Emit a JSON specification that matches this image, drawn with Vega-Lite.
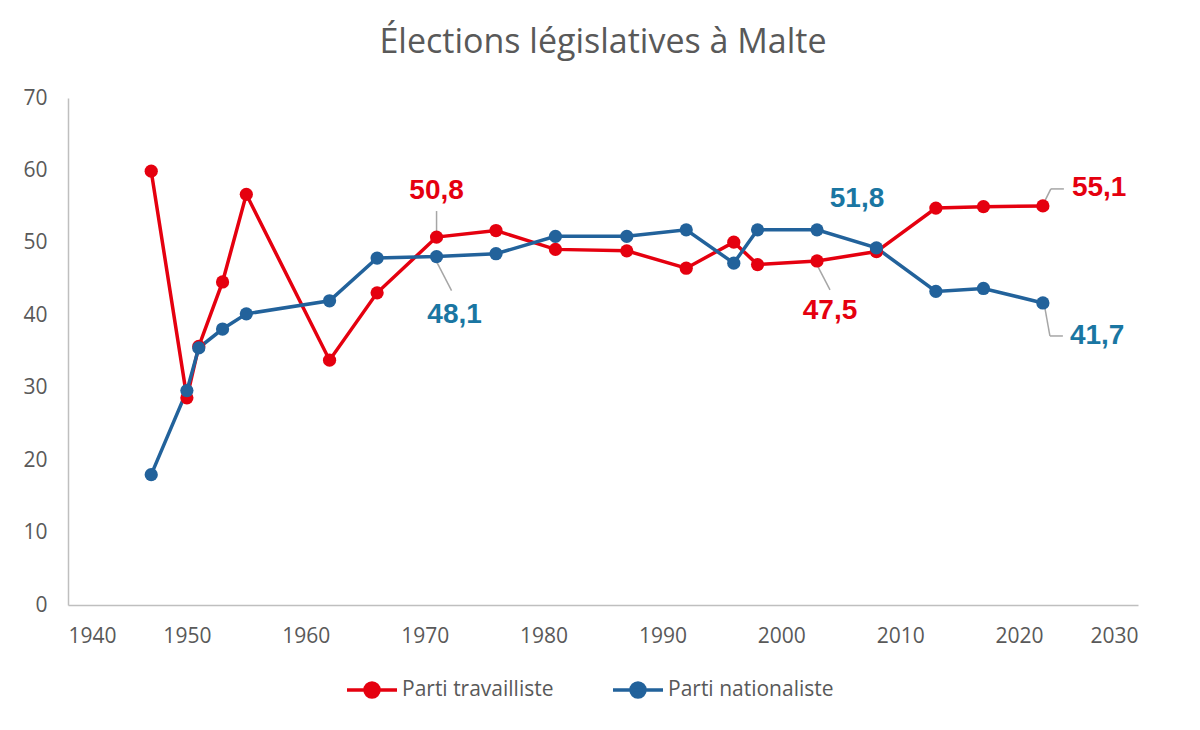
{
  "$schema": "https://vega.github.io/schema/vega-lite/v6.json",
  "width": 1070,
  "height": 507,
  "autosize": {"type": "none"},
  "padding": {"left": 68, "top": 98, "right": 62, "bottom": 125},
  "background": "white",
  "title": {
    "text": "Élections législatives à Malte",
    "font": "Open Sans",
    "fontSize": 34,
    "fontWeight": "normal",
    "color": "#595959",
    "offset": 27
  },
  "data": {
    "values": [
      {"year": 1947, "party": "Parti travailliste", "pct": 59.9},
      {"year": 1950, "party": "Parti travailliste", "pct": 28.6},
      {"year": 1951, "party": "Parti travailliste", "pct": 35.7},
      {"year": 1953, "party": "Parti travailliste", "pct": 44.6},
      {"year": 1955, "party": "Parti travailliste", "pct": 56.7},
      {"year": 1962, "party": "Parti travailliste", "pct": 33.8},
      {"year": 1966, "party": "Parti travailliste", "pct": 43.1},
      {"year": 1971, "party": "Parti travailliste", "pct": 50.8},
      {"year": 1976, "party": "Parti travailliste", "pct": 51.7},
      {"year": 1981, "party": "Parti travailliste", "pct": 49.1},
      {"year": 1987, "party": "Parti travailliste", "pct": 48.9},
      {"year": 1992, "party": "Parti travailliste", "pct": 46.5},
      {"year": 1996, "party": "Parti travailliste", "pct": 50.1},
      {"year": 1998, "party": "Parti travailliste", "pct": 47.0},
      {"year": 2003, "party": "Parti travailliste", "pct": 47.5},
      {"year": 2008, "party": "Parti travailliste", "pct": 48.8},
      {"year": 2013, "party": "Parti travailliste", "pct": 54.8},
      {"year": 2017, "party": "Parti travailliste", "pct": 55.0},
      {"year": 2022, "party": "Parti travailliste", "pct": 55.1},
      {"year": 1947, "party": "Parti nationaliste", "pct": 18.0},
      {"year": 1950, "party": "Parti nationaliste", "pct": 29.6},
      {"year": 1951, "party": "Parti nationaliste", "pct": 35.5},
      {"year": 1953, "party": "Parti nationaliste", "pct": 38.1},
      {"year": 1955, "party": "Parti nationaliste", "pct": 40.2},
      {"year": 1962, "party": "Parti nationaliste", "pct": 42.0},
      {"year": 1966, "party": "Parti nationaliste", "pct": 47.9},
      {"year": 1971, "party": "Parti nationaliste", "pct": 48.1},
      {"year": 1976, "party": "Parti nationaliste", "pct": 48.5},
      {"year": 1981, "party": "Parti nationaliste", "pct": 50.9},
      {"year": 1987, "party": "Parti nationaliste", "pct": 50.9},
      {"year": 1992, "party": "Parti nationaliste", "pct": 51.8},
      {"year": 1996, "party": "Parti nationaliste", "pct": 47.2},
      {"year": 1998, "party": "Parti nationaliste", "pct": 51.8},
      {"year": 2003, "party": "Parti nationaliste", "pct": 51.8},
      {"year": 2008, "party": "Parti nationaliste", "pct": 49.3},
      {"year": 2013, "party": "Parti nationaliste", "pct": 43.3},
      {"year": 2017, "party": "Parti nationaliste", "pct": 43.7},
      {"year": 2022, "party": "Parti nationaliste", "pct": 41.7}
    ]
  },
  "encoding": {
    "x": {
      "field": "year",
      "type": "quantitative",
      "scale": {"domain": [1940, 2030], "nice": false, "zero": false},
      "axis": {"values": [1940, 1950, 1960, 1970, 1980, 1990, 2000, 2010, 2020, 2030], "format": "d", "title": null}
    },
    "y": {
      "field": "pct",
      "type": "quantitative",
      "scale": {"domain": [0, 70], "nice": false},
      "axis": {"values": [0, 10, 20, 30, 40, 50, 60, 70], "format": "d", "title": null}
    }
  },
  "layer": [
    {
      "mark": {"type": "line", "strokeWidth": 3.5},
      "encoding": {
        "color": {
          "field": "party",
          "type": "nominal",
          "scale": {"domain": ["Parti travailliste", "Parti nationaliste"], "range": ["#E5000F", "#22629B"]},
          "legend": {
            "title": null,
            "orient": "none",
            "legendX": 277,
            "legendY": 565,
            "direction": "horizontal",
            "symbolType": "M-1,0H1M0.28,0A0.28,0.28,0,1,1,-0.28,0A0.28,0.28,0,1,1,0.28,0Z",
            "symbolSize": 2500,
            "symbolStrokeWidth": 3.5,
            "labelFont": "Open Sans",
            "labelFontSize": 21,
            "labelColor": "#595959",
            "labelLimit": 400,
            "labelOffset": 3,
            "columnPadding": 52,
            "encode": {
              "symbols": {
                "update": {
                  "fill": {"scale": "color", "field": "value"},
                  "stroke": {"scale": "color", "field": "value"},
                  "opacity": {"value": 1}
                }
              }
            }
          }
        }
      }
    },
    {
      "transform": [{"filter": "(datum.year == 1971 || datum.year == 2003 || datum.year == 2022)"}],
      "layer": [
        {
          "transform": [{"filter": "datum.year == 1971 && datum.party == 'Parti travailliste'"}],
          "mark": {"type": "rule", "color": "#A6A6A6", "strokeWidth": 1.5, "yOffset": -5, "y2Offset": -26},
          "encoding": {"x2": {"field": "year"}, "y2": {"field": "pct"}}
        },
        {
          "transform": [{"filter": "datum.year == 1971 && datum.party == 'Parti nationaliste'"}],
          "mark": {"type": "rule", "color": "#A6A6A6", "strokeWidth": 1.5, "yOffset": 5, "x2Offset": 15, "y2Offset": 34},
          "encoding": {"x2": {"field": "year"}, "y2": {"field": "pct"}}
        },
        {
          "transform": [{"filter": "datum.year == 2003 && datum.party == 'Parti travailliste'"}],
          "mark": {"type": "rule", "color": "#A6A6A6", "strokeWidth": 1.5, "yOffset": 4, "x2Offset": 13, "y2Offset": 29},
          "encoding": {"x2": {"field": "year"}, "y2": {"field": "pct"}}
        },
        {
          "transform": [{"filter": "datum.year == 2022 && datum.party == 'Parti travailliste'"}],
          "mark": {"type": "rule", "color": "#A6A6A6", "strokeWidth": 1.5, "xOffset": 2, "yOffset": -5, "x2Offset": 8, "y2Offset": -17},
          "encoding": {"x2": {"field": "year"}, "y2": {"field": "pct"}}
        },
        {
          "transform": [{"filter": "datum.year == 2022 && datum.party == 'Parti travailliste'"}],
          "mark": {"type": "rule", "color": "#A6A6A6", "strokeWidth": 1.5, "xOffset": 8, "yOffset": -17, "x2Offset": 21, "y2Offset": -17},
          "encoding": {"x2": {"field": "year"}, "y2": {"field": "pct"}}
        },
        {
          "transform": [{"filter": "datum.year == 2022 && datum.party == 'Parti nationaliste'"}],
          "mark": {"type": "rule", "color": "#A6A6A6", "strokeWidth": 1.5, "xOffset": 2, "yOffset": 5, "x2Offset": 7, "y2Offset": 33},
          "encoding": {"x2": {"field": "year"}, "y2": {"field": "pct"}}
        },
        {
          "transform": [{"filter": "datum.year == 2022 && datum.party == 'Parti nationaliste'"}],
          "mark": {"type": "rule", "color": "#A6A6A6", "strokeWidth": 1.5, "xOffset": 7, "yOffset": 33, "x2Offset": 20, "y2Offset": 33},
          "encoding": {"x2": {"field": "year"}, "y2": {"field": "pct"}}
        }
      ]
    },
    {
      "mark": {"type": "point", "filled": true, "opacity": 1, "size": 175},
      "encoding": {
        "color": {"field": "party", "type": "nominal", "legend": null}
      }
    },
    {
      "transform": [{"filter": "(datum.year == 1971 || datum.year == 2003 || datum.year == 2022)"}],
      "encoding": {
        "text": {"field": "pct", "type": "quantitative", "format": ".1f"}
      },
      "layer": [
        {
          "transform": [{"filter": "datum.year == 1971 && datum.party == 'Parti travailliste'"}],
          "mark": {"type": "text", "font": "Liberation Sans", "fontWeight": "bold", "fontSize": 28, "color": "#E5000F", "align": "center", "baseline": "middle", "dy": -46}
        },
        {
          "transform": [{"filter": "datum.year == 1971 && datum.party == 'Parti nationaliste'"}],
          "mark": {"type": "text", "font": "Liberation Sans", "fontWeight": "bold", "fontSize": 28, "color": "#1A76A2", "align": "center", "baseline": "middle", "dx": 18, "dy": 58}
        },
        {
          "transform": [{"filter": "datum.year == 2003 && datum.party == 'Parti nationaliste'"}],
          "mark": {"type": "text", "font": "Liberation Sans", "fontWeight": "bold", "fontSize": 28, "color": "#1A76A2", "align": "center", "baseline": "middle", "dx": 40, "dy": -31}
        },
        {
          "transform": [{"filter": "datum.year == 2003 && datum.party == 'Parti travailliste'"}],
          "mark": {"type": "text", "font": "Liberation Sans", "fontWeight": "bold", "fontSize": 28, "color": "#E5000F", "align": "center", "baseline": "middle", "dx": 13, "dy": 50}
        },
        {
          "transform": [{"filter": "datum.year == 2022 && datum.party == 'Parti travailliste'"}],
          "mark": {"type": "text", "font": "Liberation Sans", "fontWeight": "bold", "fontSize": 28, "color": "#E5000F", "align": "left", "baseline": "middle", "dx": 29, "dy": -18}
        },
        {
          "transform": [{"filter": "datum.year == 2022 && datum.party == 'Parti nationaliste'"}],
          "mark": {"type": "text", "font": "Liberation Sans", "fontWeight": "bold", "fontSize": 28, "color": "#1A76A2", "align": "left", "baseline": "middle", "dx": 27, "dy": 33}
        }
      ]
    }
  ],
  "config": {
    "locale": {
      "number": {"decimal": ",", "thousands": "\u00a0", "grouping": [3], "currency": ["", "\u00a0€"]}
    },
    "view": {"stroke": null},
    "axis": {
      "grid": false,
      "ticks": false,
      "domainColor": "#BFBFBF",
      "domainWidth": 1.5,
      "labelFont": "Open Sans",
      "labelFontSize": 21,
      "labelColor": "#595959"
    },
    "axisY": {"labelPadding": 21},
    "axisX": {"labelPadding": 20}
  }
}
